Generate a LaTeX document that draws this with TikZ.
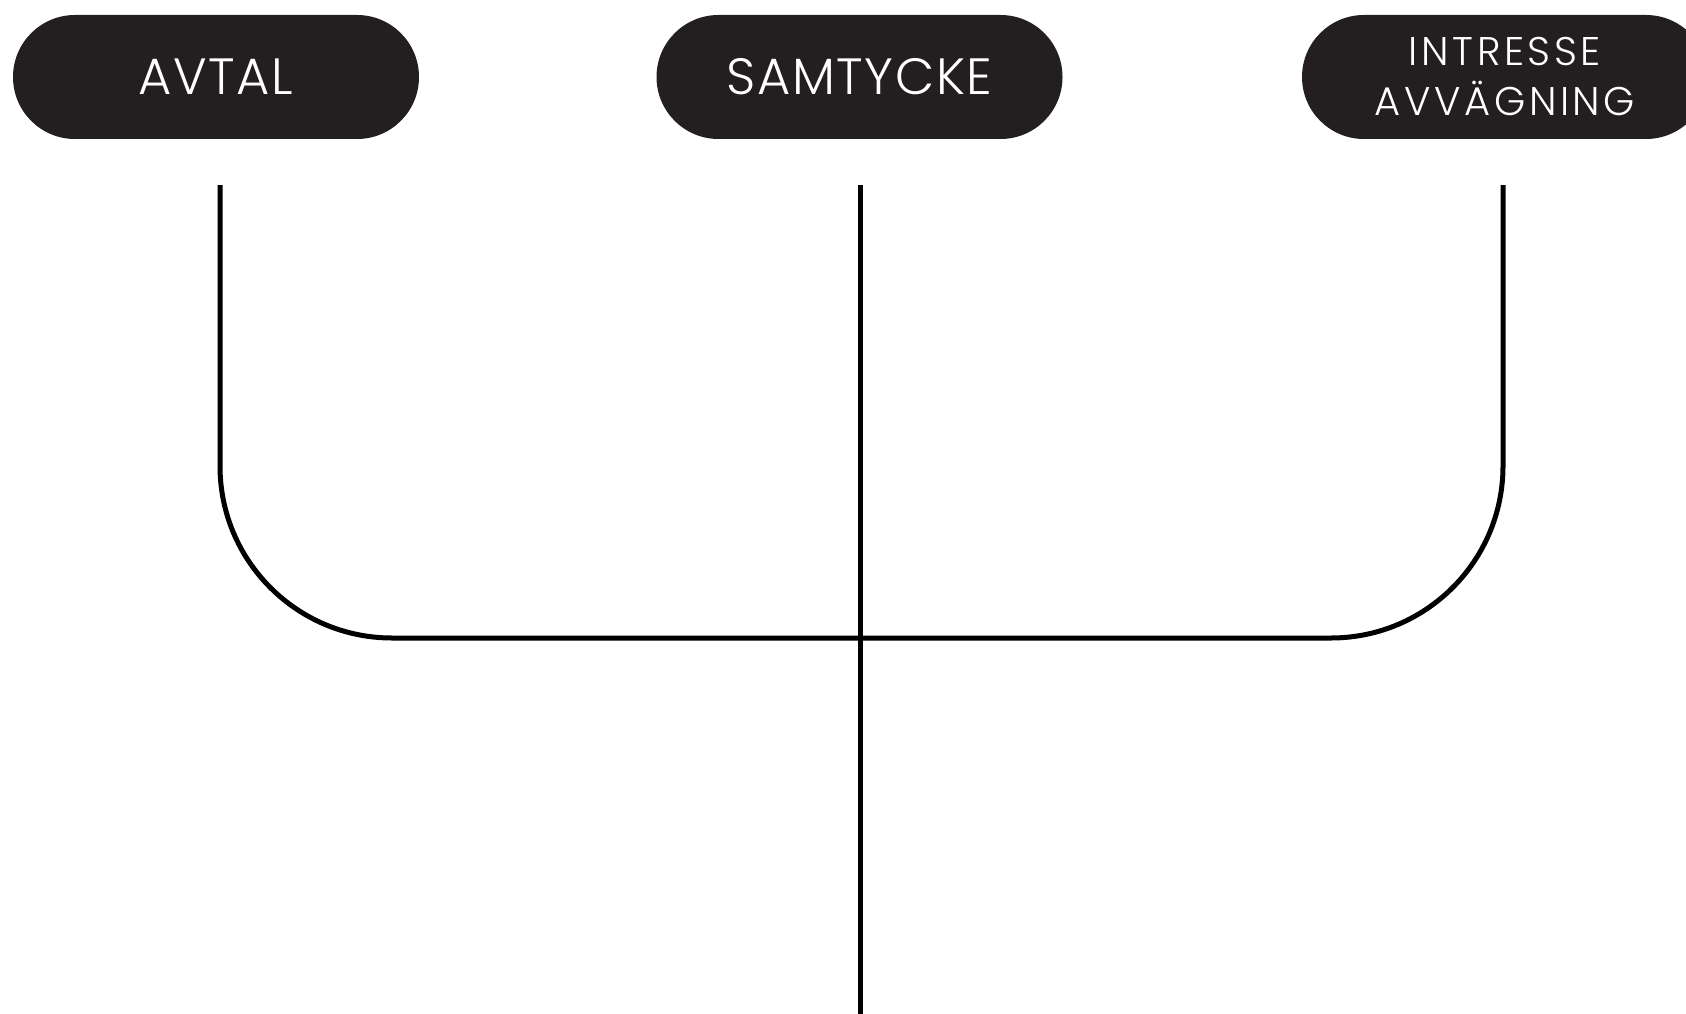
\documentclass[tikz,border=0pt]{standalone}
\usepackage{fontspec}
\newfontfamily\pillfont{Poppins Light}[LetterSpace=3]
\newfontfamily\pillfontsmall{Poppins Light}[LetterSpace=9]
\definecolor{pillblack}{HTML}{231F20}
\begin{document}
\begin{tikzpicture}[x=1pt,y=-1pt,
  pill/.style={fill=pillblack,rounded corners=62pt,minimum width=406pt,minimum height=124pt,inner sep=0pt,text=white,align=center,font=\pillfont\fontsize{51}{60}\selectfont},
  pillsmall/.style={pill,font=\pillfontsmall\fontsize{40}{50}\selectfont},
  conn/.style={line width=5pt,black,line join=round}]
\useasboundingbox (0,0) rectangle (1686,1014);
\clip (0,0) rectangle (1686,1014);
\node[pill] (avtal) at (216,77) {AVTAL};
\node[pill] (samtycke) at (859.5,77) {SAMTYCKE};
\node[pillsmall] (intresse) at (1505,77) {INTRESSE\\AVVÄGNING};
\coordinate (a1) at (220,185);
\coordinate (s1) at (860,185);
\coordinate (i1) at (1503,185);
\coordinate (bot) at (860,1014);
\draw[conn,rounded corners=172pt] (a1) -- (a1 |- 0,638) -- (i1 |- 0,638) -- (i1);
\draw[conn] (s1) -- (bot);
\end{tikzpicture}
\end{document}
